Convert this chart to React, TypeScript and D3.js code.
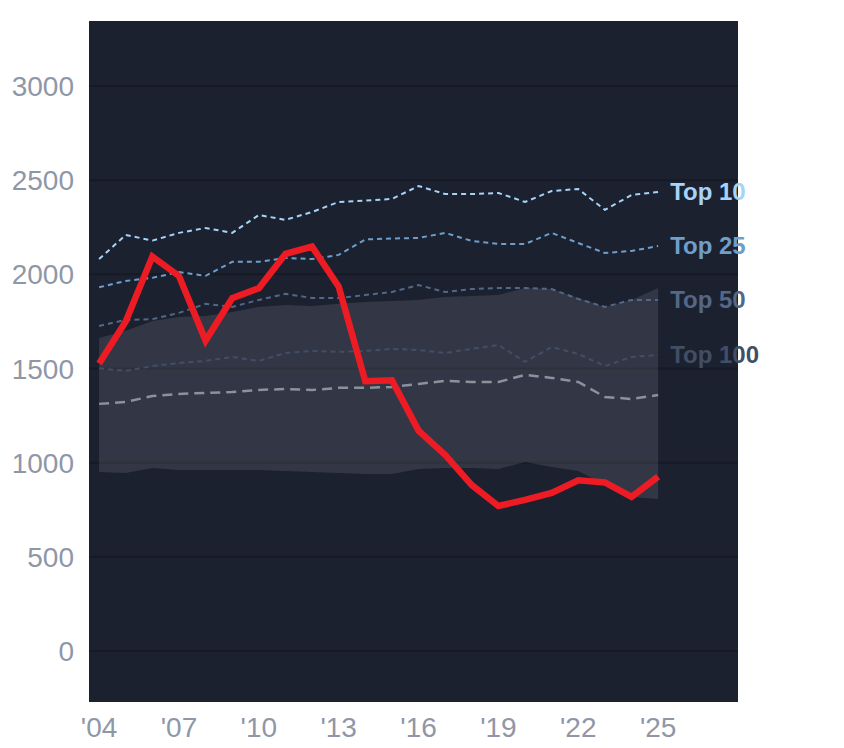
import * as d3 from "d3";

const years = [
  2004, 2005, 2006, 2007, 2008, 2009, 2010, 2011, 2012, 2013, 2014, 2015,
  2016, 2017, 2018, 2019, 2020, 2021, 2022, 2023, 2024, 2025,
];

// highlighted series (red)
const subject = [
  1527, 1749, 2094, 1991, 1648, 1873, 1926, 2108, 2147, 1934, 1432, 1437,
  1170, 1041, 881, 770, 802, 839, 906, 895, 818, 926,
];

const top10 = [
  2081, 2209, 2179, 2220, 2246, 2220, 2315, 2289, 2331, 2384, 2392, 2400,
  2469, 2426, 2426, 2432, 2384, 2442, 2453, 2342, 2421, 2437,
];
const top25 = [
  1931, 1965, 1981, 2012, 1992, 2066, 2066, 2087, 2081, 2103, 2185, 2190,
  2193, 2220, 2177, 2161, 2161, 2220, 2166, 2113, 2124, 2150,
];
const top50 = [
  1726, 1758, 1762, 1795, 1843, 1827, 1864, 1896, 1874, 1874, 1890, 1906,
  1943, 1906, 1922, 1927, 1927, 1922, 1869, 1827, 1864, 1864,
];
const top100 = [
  1501, 1487, 1513, 1529, 1540, 1561, 1540, 1582, 1593, 1588, 1593, 1604,
  1598, 1582, 1604, 1625, 1535, 1614, 1577, 1513, 1561, 1572,
];
const median = [
  1312, 1322, 1354, 1365, 1370, 1375, 1386, 1391, 1386, 1397, 1397, 1402,
  1418, 1434, 1428, 1428, 1466, 1450, 1428, 1349, 1338, 1359,
];
const bandHigh = [
  1662, 1700, 1752, 1773, 1779, 1800, 1827, 1837, 1832, 1843, 1853, 1858,
  1864, 1880, 1885, 1890, 1927, 1922, 1874, 1827, 1864, 1927,
];
const bandLow = [
  950, 945, 972, 961, 961, 961, 961, 956, 950, 945, 940, 940, 966, 972, 972,
  966, 1004, 977, 956, 881, 818, 807,
];

const yTicks = [0, 500, 1000, 1500, 2000, 2500, 3000];
const xTicks = [2004, 2007, 2010, 2013, 2016, 2019, 2022, 2025];

const tiers = [
  { label: "Top 10", values: top10, color: "#a6d3f8" },
  { label: "Top 25", values: top25, color: "#6e9fcc" },
  { label: "Top 50", values: top50, color: "#526886" },
  { label: "Top 100", values: top100, color: "#414e66" },
];

const W = 844;
const H = 748;
const plot = { left: 89, right: 738, top: 21, bottom: 702 };
const font = "'Liberation Sans', Arial, sans-serif";

export default function App() {
  const x = d3.scaleLinear().domain([2003.62, 2028]).range([plot.left, plot.right]);
  const y = d3.scaleLinear().domain([-271, 3345]).range([plot.bottom, plot.top]);

  const line = (vals: number[]) =>
    d3
      .line<number>()
      .x((_, i) => x(years[i]))
      .y((d) => y(d))(vals) ?? "";

  const band =
    d3
      .area<number>()
      .x((_, i) => x(years[i]))
      .y0((_, i) => y(bandLow[i]))
      .y1((d) => y(d))(bandHigh) ?? "";

  const last = years.length - 1;

  return (
    <svg
      width={W}
      height={H}
      style={{ position: "absolute", left: 0, top: 0, background: "#fff" }}
    >
      <rect
        x={plot.left}
        y={plot.top}
        width={plot.right - plot.left}
        height={plot.bottom - plot.top}
        fill="#1c2130"
      />
      {yTicks.map((t) => (
        <line
          key={t}
          x1={plot.left}
          x2={plot.right}
          y1={y(t)}
          y2={y(t)}
          stroke="#151a24"
          strokeWidth={2}
        />
      ))}
      <path d={band} fill="#fff" fillOpacity={0.1} />
      <path
        d={line(median)}
        fill="none"
        stroke="#8b919d"
        strokeWidth={2.5}
        strokeDasharray="10,6"
      />
      {tiers.map((t) => (
        <path
          key={t.label}
          d={line(t.values)}
          fill="none"
          stroke={t.color}
          strokeWidth={2}
          strokeDasharray="5,4"
        />
      ))}
      <path
        d={line(subject)}
        fill="none"
        stroke="#ed1c24"
        strokeWidth={6.5}
        strokeLinejoin="miter"
      />
      {tiers.map((t) => (
        <text
          key={t.label}
          x={x(years[last]) + 12}
          y={y(t.values[last])}
          dy="0.35em"
          fill={t.color}
          fontFamily={font}
          fontWeight="bold"
          fontSize={24}
        >
          {t.label}
        </text>
      ))}
      {yTicks.map((t) => (
        <text
          key={t}
          x={74}
          y={y(t)}
          dy="0.36em"
          textAnchor="end"
          fill="#8f97a7"
          fontFamily={font}
          fontSize={28}
        >
          {t}
        </text>
      ))}
      {xTicks.map((t) => (
        <text
          key={t}
          x={x(t)}
          y={737}
          textAnchor="middle"
          fill="#8f97a7"
          fontFamily={font}
          fontSize={28}
        >
          {"'" + String(t).slice(2)}
        </text>
      ))}
    </svg>
  );
}
